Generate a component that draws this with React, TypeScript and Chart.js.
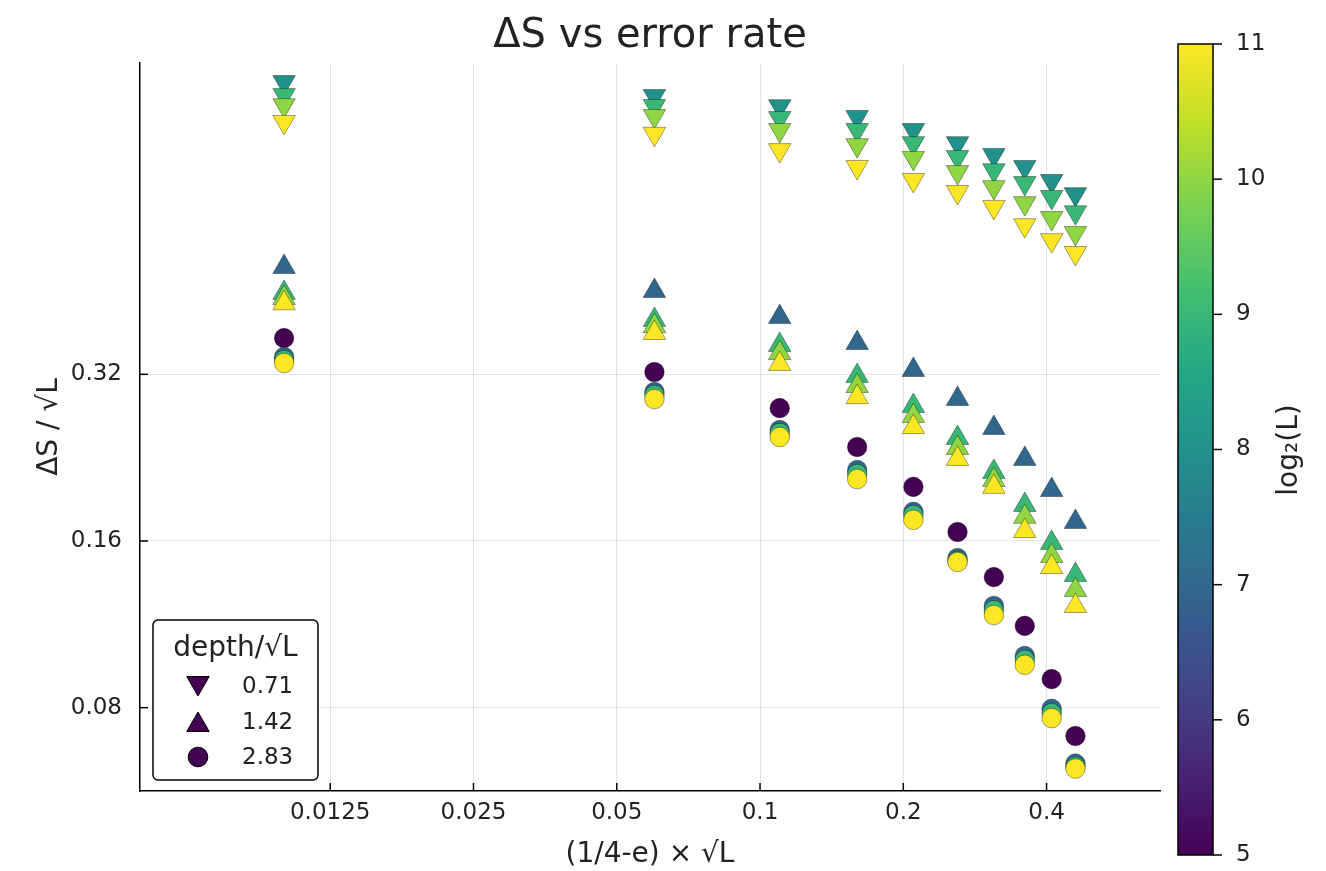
import React, { useEffect, useRef } from 'react';
import { Chart, registerables } from 'chart.js';

Chart.register(...registerables);

// ---------- data ----------
const xValues = [0.01, 0.06, 0.11, 0.16, 0.21, 0.26, 0.31, 0.36, 0.41, 0.46];

// depth/√L = 0.71 (down triangles)
const down_L8 = [1.079, 1.018, 0.976, 0.933, 0.884, 0.837, 0.797, 0.758, 0.715, 0.677];
const down_L9 = [1.022, 0.977, 0.929, 0.884, 0.837, 0.79, 0.748, 0.709, 0.669, 0.628];
const down_L10 = [0.98, 0.937, 0.884, 0.83, 0.787, 0.742, 0.697, 0.652, 0.613, 0.576];
const down_L11 = [0.914, 0.87, 0.813, 0.758, 0.718, 0.683, 0.642, 0.595, 0.559, 0.53];

// depth/√L = 1.42 (up triangles)
const up_L7 = [0.5, 0.4525, 0.406, 0.3645, 0.3258, 0.2888, 0.256, 0.2251, 0.1978, 0.1732];
const up_L9 = [0.449, 0.401, 0.3615, 0.3177, 0.2804, 0.2455, 0.2132, 0.1858, 0.1587, 0.1389];
const up_L10 = [0.4395, 0.391, 0.3496, 0.3048, 0.269, 0.2355, 0.2062, 0.1769, 0.1503, 0.1305];
const up_L11 = [0.43, 0.38, 0.334, 0.291, 0.257, 0.2251, 0.2004, 0.1668, 0.1436, 0.1221];

// depth/√L = 2.83 (circles)
const circ_L5 = [0.372, 0.3231, 0.278, 0.2365, 0.2004, 0.1661, 0.1377, 0.1124, 0.0901, 0.0711];
const circ_L7 = [0.3439, 0.2973, 0.2538, 0.2149, 0.1806, 0.149, 0.1221, 0.0992, 0.0796, 0.0634];
const circ_L9 = [0.3396, 0.2936, 0.2507, 0.2114, 0.1783, 0.1472, 0.12, 0.0976, 0.0782, 0.0626];
const circ_L11 = [0.3354, 0.2888, 0.2466, 0.207, 0.1747, 0.1466, 0.1176, 0.0956, 0.0766, 0.0621];

const xTicks = [0.0125, 0.025, 0.05, 0.1, 0.2, 0.4];
const yTicks = [0.08, 0.16, 0.32];
const colorbarTicks = [5, 6, 7, 8, 9, 10, 11];
const legendLabels = ['0.71', '1.42', '2.83'];

const titleText = 'ΔS vs error rate';
const xTitle = '(1/4-e) × √L';
const yTitle = 'ΔS / √L';
const legendTitle = 'depth/√L';
const colorbarTitle = 'log₂(L)';

// ---------- viridis ----------
const viridisStops = ['#440154', '#482475', '#414487', '#355f8d', '#2a788e', '#21918c', '#22a884', '#44bf70', '#7ad151', '#bddf26', '#fde725'];

function hexToRgb(h: string) {
  const n = parseInt(h.slice(1), 16);
  return [(n >> 16) & 255, (n >> 8) & 255, n & 255];
}
function viridis(t: number) {
  const tt = Math.max(0, Math.min(1, t)) * (viridisStops.length - 1);
  const i = Math.min(Math.floor(tt), viridisStops.length - 2);
  const f = tt - i;
  const a = hexToRgb(viridisStops[i]);
  const b = hexToRgb(viridisStops[i + 1]);
  const c = a.map((v, k) => Math.round(v + (b[k] - v) * f));
  return `rgb(${c[0]},${c[1]},${c[2]})`;
}
const cMin = 5;
const cMax = 11;
const colorFor = (l: number) => viridis((l - cMin) / (cMax - cMin));

const FONT = '"DejaVu Sans", sans-serif';
const TEXT = '#222222';

type Series = { l: number; style: 'down' | 'up' | 'circle'; values: number[] };
const series: Series[] = [
  { l: 8, style: 'down', values: down_L8 },
  { l: 9, style: 'down', values: down_L9 },
  { l: 10, style: 'down', values: down_L10 },
  { l: 11, style: 'down', values: down_L11 },
  { l: 7, style: 'up', values: up_L7 },
  { l: 9, style: 'up', values: up_L9 },
  { l: 10, style: 'up', values: up_L10 },
  { l: 11, style: 'up', values: up_L11 },
  { l: 5, style: 'circle', values: circ_L5 },
  { l: 7, style: 'circle', values: circ_L7 },
  { l: 9, style: 'circle', values: circ_L9 },
  { l: 11, style: 'circle', values: circ_L11 },
];

const TRI_R = 13;
const CIRC_R = 9.8;

function drawMarker(ctx: CanvasRenderingContext2D, style: string, x: number, y: number, fill: string) {
  ctx.save();
  ctx.fillStyle = fill;
  ctx.strokeStyle = '#000';
  ctx.lineWidth = 1;
  ctx.beginPath();
  if (style === 'circle') {
    ctx.arc(x, y, CIRC_R, 0, Math.PI * 2);
  } else {
    const r = TRI_R;
    const s = style === 'down' ? -1 : 1;
    const h = r * Math.sqrt(3) / 2;
    ctx.moveTo(x, y - s * r);
    ctx.lineTo(x + h, y + s * r / 2);
    ctx.lineTo(x - h, y + s * r / 2);
    ctx.closePath();
  }
  ctx.fill();
  ctx.stroke();
  ctx.restore();
}

const overlayPlugin = {
  id: 'overlay',
  afterDraw(chart: any) {
    const ctx: CanvasRenderingContext2D = chart.ctx;
    const { left, right, top, bottom } = chart.chartArea;
    const xs = chart.scales.x;
    const ys = chart.scales.y;
    ctx.save();

    // inside tick marks
    ctx.strokeStyle = '#000';
    ctx.lineWidth = 1.5;
    xTicks.forEach((v) => {
      const px = xs.getPixelForValue(v);
      ctx.beginPath();
      ctx.moveTo(px, bottom);
      ctx.lineTo(px, bottom - 8);
      ctx.stroke();
    });
    yTicks.forEach((v) => {
      const py = ys.getPixelForValue(v);
      ctx.beginPath();
      ctx.moveTo(left, py);
      ctx.lineTo(left + 8, py);
      ctx.stroke();
    });

    // title
    ctx.fillStyle = TEXT;
    ctx.font = `40px ${FONT}`;
    ctx.textAlign = 'center';
    ctx.textBaseline = 'alphabetic';
    ctx.fillText(titleText, (left + right) / 2, 47);

    // axis titles
    ctx.font = `28px ${FONT}`;
    ctx.fillText(xTitle, (left + right) / 2, 862);
    ctx.save();
    ctx.translate(50, (top + bottom) / 2);
    ctx.rotate(-Math.PI / 2);
    ctx.textBaseline = 'middle';
    ctx.fillText(yTitle, 0, 0);
    ctx.restore();

    // legend
    const lx = 153, ly = 620, lw = 165, lh = 160;
    ctx.beginPath();
    ctx.roundRect(lx, ly, lw, lh, 5);
    ctx.fillStyle = '#fff';
    ctx.fill();
    ctx.strokeStyle = '#000';
    ctx.lineWidth = 1.5;
    ctx.stroke();
    ctx.fillStyle = TEXT;
    ctx.font = `28px ${FONT}`;
    ctx.textAlign = 'center';
    ctx.textBaseline = 'alphabetic';
    ctx.fillText(legendTitle, lx + lw / 2, 656);
    const styles = ['down', 'up', 'circle'];
    const rowY = [686, 722, 757];
    ctx.font = `23px ${FONT}`;
    ctx.textAlign = 'left';
    ctx.textBaseline = 'middle';
    styles.forEach((st, i) => {
      drawMarker(ctx, st, 198, rowY[i] + (st === 'down' ? -3 : st === 'up' ? 3 : 0), colorFor(5));
      ctx.fillStyle = TEXT;
      ctx.fillText(legendLabels[i], 242, rowY[i] + 1);
    });

    // colorbar
    const cbx = 1178, cbw = 35, cbTop = 44, cbBot = 855;
    const grad = ctx.createLinearGradient(0, cbBot, 0, cbTop);
    for (let i = 0; i <= 20; i++) grad.addColorStop(i / 20, viridis(i / 20));
    ctx.fillStyle = grad;
    ctx.fillRect(cbx, cbTop, cbw, cbBot - cbTop);
    ctx.strokeStyle = '#000';
    ctx.lineWidth = 1.5;
    ctx.strokeRect(cbx, cbTop, cbw, cbBot - cbTop);
    ctx.font = `23px ${FONT}`;
    ctx.fillStyle = TEXT;
    ctx.textAlign = 'left';
    ctx.textBaseline = 'middle';
    colorbarTicks.forEach((v) => {
      const py = cbBot - ((v - cMin) / (cMax - cMin)) * (cbBot - cbTop);
      ctx.beginPath();
      ctx.moveTo(cbx + cbw, py);
      ctx.lineTo(cbx + cbw + 9, py);
      ctx.stroke();
      ctx.fillText(String(v), 1236, py);
    });
    ctx.save();
    ctx.translate(1290, 450);
    ctx.rotate(-Math.PI / 2);
    ctx.textAlign = 'center';
    ctx.font = `28px ${FONT}`;
    ctx.fillText(colorbarTitle, 0, 0);
    ctx.restore();

    ctx.restore();
  },
};

export default function App() {
  const ref = useRef<HTMLCanvasElement | null>(null);
  useEffect(() => {
    if (!ref.current) return;
    const datasets = series.map((s) => ({
      label: `${s.style}-${s.l}`,
      data: xValues.map((x, i) => ({ x, y: s.values[i] })),
      pointStyle: s.style === 'circle' ? 'circle' : 'triangle',
      rotation: s.style === 'down' ? 180 : 0,
      pointRadius: s.style === 'circle' ? CIRC_R : TRI_R,
      backgroundColor: colorFor(s.l),
      borderColor: 'rgba(0,0,0,0.45)',
      borderWidth: 0.8,
      showLine: false,
      order: 20 - s.l,
    }));
    const chart = new Chart(ref.current, {
      type: 'scatter',
      data: { datasets },
      plugins: [overlayPlugin],
      options: {
        animation: false,
        responsive: false,
        layout: { padding: { left: 0, top: 63, right: 166, bottom: 0 } },
        plugins: { legend: { display: false }, tooltip: { enabled: false }, title: { display: false } },
        scales: {
          x: {
            type: 'logarithmic',
            min: 0.00498,
            max: 0.6925,
            afterBuildTicks: (s: any) => { s.ticks = xTicks.map((v) => ({ value: v })); },
            afterFit: (s: any) => { s.height = 80; },
            ticks: {
              autoSkip: false,
              maxRotation: 0,
              padding: 8,
              color: TEXT,
              font: { family: FONT, size: 23 },
              callback: (v: any) => String(v),
            },
            grid: { color: 'rgba(0,0,0,0.1)', lineWidth: 1, drawTicks: false },
            border: { display: true, color: '#000', width: 1.5 },
          },
          y: {
            type: 'logarithmic',
            min: 0.05657,
            max: 1.168,
            afterBuildTicks: (s: any) => { s.ticks = yTicks.map((v) => ({ value: v })); },
            afterFit: (s: any) => { s.width = 140; },
            ticks: {
              autoSkip: false,
              padding: 18,
              color: TEXT,
              font: { family: FONT, size: 23 },
              callback: (v: any) => String(v),
            },
            grid: { color: 'rgba(0,0,0,0.1)', lineWidth: 1, drawTicks: false },
            border: { display: true, color: '#000', width: 1.5 },
          },
        },
      },
    } as any);
    return () => chart.destroy();
  }, []);
  return (
    <div style={{ position: 'absolute', left: 0, top: 0, width: 1326, height: 871, background: '#fff' }}>
      <canvas ref={ref} width={1326} height={871} />
    </div>
  );
}
